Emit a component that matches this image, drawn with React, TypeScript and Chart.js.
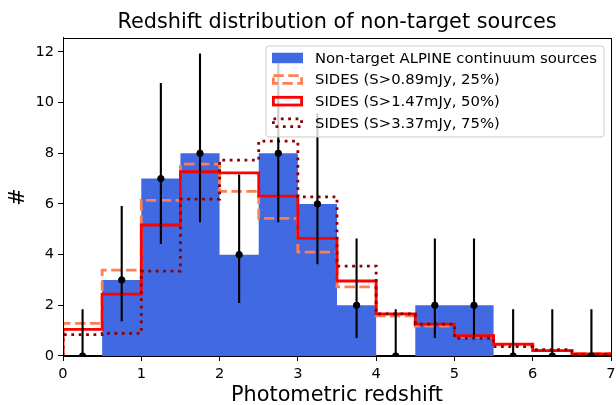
import React, { useEffect, useRef } from "react";
import { Chart, registerables } from "chart.js";

Chart.register(...registerables);

// Bin edges of the histograms (photometric redshift)
const binEdges = [0, 0.5, 1, 1.5, 2, 2.5, 3, 3.5, 4, 4.5, 5, 5.5, 6, 6.5, 7];
const binCenters = [0.25, 0.75, 1.25, 1.75, 2.25, 2.75, 3.25, 3.75, 4.25, 4.75, 5.25, 5.75, 6.25, 6.75];

// Non-target ALPINE continuum sources (counts per bin)
const alpineCounts = [0, 3, 7, 8, 4, 8, 6, 2, 0, 2, 2, 0, 0, 0];
const alpineErrLow = [0, 1.37, 4.42, 5.28, 2.09, 5.28, 3.62, 0.71, 0, 0.71, 0.71, 0, 0, 0];
const alpineErrHigh = [1.84, 5.92, 10.77, 11.94, 7.16, 11.94, 9.58, 4.64, 1.84, 4.64, 4.64, 1.84, 1.84, 1.84];

// SIDES expectations
const sides25 = [1.29, 3.39, 6.14, 7.57, 6.5, 5.43, 4.1, 2.73, 1.58, 1.18, 0.76, 0.44, 0.22, 0.09];
const sides50 = [1.05, 2.44, 5.17, 7.27, 7.23, 6.31, 4.64, 2.96, 1.66, 1.26, 0.8, 0.47, 0.21, 0.08];
const sides75 = [0.84, 0.89, 3.35, 6.19, 7.73, 8.48, 6.28, 3.55, 1.66, 1.26, 0.7, 0.37, 0.25, 0.05];

const xTicks = [0, 1, 2, 3, 4, 5, 6, 7];
const yTicks = [0, 2, 4, 6, 8, 10, 12];

const legendLabels = [
  "Non-target ALPINE continuum sources",
  "SIDES (S>0.89mJy, 25%)",
  "SIDES (S>1.47mJy, 50%)",
  "SIDES (S>3.37mJy, 75%)",
];

const FONT = "'DejaVu Sans', sans-serif";

function stepPoints(values: number[]) {
  const pts: { x: number; y: number }[] = [{ x: binEdges[0], y: 0 }];
  values.forEach((v, i) => pts.push({ x: binEdges[i], y: v }));
  const last = values[values.length - 1];
  pts.push({ x: binEdges[binEdges.length - 1], y: last });
  pts.push({ x: binEdges[binEdges.length - 1], y: 0 });
  return pts;
}

function errorSegments() {
  const pts: ({ x: number; y: number | null })[] = [];
  binCenters.forEach((c, i) => {
    pts.push({ x: c, y: alpineErrLow[i] });
    pts.push({ x: c, y: alpineErrHigh[i] });
    pts.push({ x: c, y: null });
  });
  return pts;
}

const framePlugin = {
  id: "frame",
  afterDraw(chart: any) {
    const { ctx, chartArea } = chart;
    ctx.save();
    ctx.strokeStyle = "#000";
    ctx.lineWidth = 1;
    ctx.strokeRect(
      Math.round(chartArea.left) + 0.5,
      Math.round(chartArea.top) + 0.5,
      Math.round(chartArea.right - chartArea.left),
      Math.round(chartArea.bottom - chartArea.top)
    );
    ctx.restore();
  },
};

const legendPlugin = {
  id: "mplLegend",
  afterDraw(chart: any) {
    const { ctx, chartArea } = chart;
    const boxRight = chartArea.right - 7;
    const boxLeft = boxRight - 338;
    const boxTop = chartArea.top + 8;
    const boxH = 91;
    ctx.save();
    ctx.beginPath();
    const r = 3;
    ctx.moveTo(boxLeft + r, boxTop);
    ctx.lineTo(boxRight - r, boxTop);
    ctx.quadraticCurveTo(boxRight, boxTop, boxRight, boxTop + r);
    ctx.lineTo(boxRight, boxTop + boxH - r);
    ctx.quadraticCurveTo(boxRight, boxTop + boxH, boxRight - r, boxTop + boxH);
    ctx.lineTo(boxLeft + r, boxTop + boxH);
    ctx.quadraticCurveTo(boxLeft, boxTop + boxH, boxLeft, boxTop + boxH - r);
    ctx.lineTo(boxLeft, boxTop + r);
    ctx.quadraticCurveTo(boxLeft, boxTop, boxLeft + r, boxTop);
    ctx.closePath();
    ctx.fillStyle = "rgba(255,255,255,0.8)";
    ctx.fill();
    ctx.strokeStyle = "#cccccc";
    ctx.lineWidth = 1;
    ctx.stroke();

    const patchX = boxLeft + 6;
    const patchW = 31;
    const patchH = 10.5;
    const rowH = 21.6;
    const firstRow = boxTop + 12;
    ctx.font = `14.8px ${FONT}`;
    ctx.textBaseline = "middle";
    ctx.textAlign = "left";
    legendLabels.forEach((label, i) => {
      const cy = firstRow + i * rowH;
      if (i === 0) {
        ctx.fillStyle = "#4169E1";
        ctx.fillRect(patchX, cy - patchH / 2, patchW, patchH);
      } else {
        ctx.lineWidth = 2.8;
        ctx.lineCap = "butt";
        if (i === 1) {
          ctx.strokeStyle = "#FF7F50";
          ctx.setLineDash([10.4, 4.5]);
        } else if (i === 2) {
          ctx.strokeStyle = "#FF0000";
          ctx.setLineDash([]);
        } else {
          ctx.strokeStyle = "#8B0000";
          ctx.setLineDash([2.8, 4.6]);
        }
        ctx.strokeRect(patchX + 1.4, cy - patchH / 2 + 1.4, patchW - 2.8, patchH - 2.8);
        ctx.setLineDash([]);
      }
      ctx.fillStyle = "#000";
      ctx.fillText(label, patchX + patchW + 12, cy + 1);
    });
    ctx.restore();
  },
};

export default function App() {
  const canvasRef = useRef<HTMLCanvasElement | null>(null);

  useEffect(() => {
    document.body.style.margin = "0";
    const canvas = canvasRef.current;
    if (!canvas) return;
    const chart = new Chart(canvas, {
      type: "line",
      data: {
        datasets: [
          {
            label: "points",
            type: "scatter",
            data: binCenters.map((c, i) => ({ x: c, y: alpineCounts[i] })),
            pointRadius: 3.2,
            pointBackgroundColor: "#000",
            pointBorderColor: "#000",
            showLine: false,
            clip: 0,
            order: 0,
          } as any,
          {
            label: "errors",
            data: errorSegments(),
            borderColor: "#000",
            borderWidth: 2.1,
            pointRadius: 0,
            spanGaps: false,
            fill: false,
            clip: 0,
            order: 1,
          },
          {
            label: legendLabels[3],
            data: stepPoints(sides75),
            stepped: "before",
            borderColor: "#8B0000",
            borderWidth: 2.8,
            borderDash: [2.8, 4.6],
            pointRadius: 0,
            fill: false,
            clip: 0,
            order: 2,
          },
          {
            label: legendLabels[2],
            data: stepPoints(sides50),
            stepped: "before",
            borderColor: "#FF0000",
            borderWidth: 2.8,
            pointRadius: 0,
            fill: false,
            clip: 0,
            order: 3,
          },
          {
            label: legendLabels[1],
            data: stepPoints(sides25),
            stepped: "before",
            borderColor: "#FF7F50",
            borderWidth: 2.8,
            borderDash: [10.4, 4.5],
            pointRadius: 0,
            fill: false,
            clip: 0,
            order: 4,
          },
          {
            label: legendLabels[0],
            data: stepPoints(alpineCounts),
            stepped: "before",
            borderColor: "rgba(0,0,0,0)",
            borderWidth: 0,
            backgroundColor: "#4169E1",
            pointRadius: 0,
            fill: "origin",
            clip: 0,
            order: 5,
          },
        ],
      },
      options: {
        animation: false,
        responsive: false,
        maintainAspectRatio: false,
        layout: { padding: { left: 0, right: 4, top: 0, bottom: 0 } },
        plugins: {
          legend: { display: false },
          tooltip: { enabled: false },
          title: {
            display: true,
            fullSize: false,
            text: "Redshift distribution of non-target sources",
            color: "#000",
            font: { family: FONT, size: 20.8, weight: "normal" },
            padding: { top: 10, bottom: 3 },
          },
        },
        scales: {
          x: {
            type: "linear",
            min: 0,
            max: 7,
            afterFit: (s: any) => {
              s.height = 49;
              s.paddingLeft = 0;
              s.paddingRight = 0;
            },
            afterBuildTicks: (s: any) => {
              s.ticks = xTicks.map((v) => ({ value: v }));
            },
            ticks: {
              color: "#000",
              font: { family: FONT, size: 14.6 },
              padding: 4,
              maxRotation: 0,
              autoSkip: false,
            },
            grid: {
              display: true,
              drawOnChartArea: false,
              drawTicks: true,
              tickLength: 5,
              color: "#000",
            },
            border: { display: true, color: "#000", width: 1 },
            title: {
              display: true,
              text: "Photometric redshift",
              color: "#000",
              font: { family: FONT, size: 20.8 },
              padding: { top: 0, bottom: -3 },
            },
          },
          y: {
            type: "linear",
            min: 0,
            max: 12.55,
            afterFit: (s: any) => {
              s.width = 63;
            },
            afterBuildTicks: (s: any) => {
              s.ticks = yTicks.map((v) => ({ value: v }));
            },
            ticks: {
              color: "#000",
              font: { family: FONT, size: 14.6 },
              padding: 4,
              autoSkip: false,
            },
            grid: {
              display: true,
              drawOnChartArea: false,
              drawTicks: true,
              tickLength: 5,
              color: "#000",
            },
            border: { display: true, color: "#000", width: 1 },
            title: {
              display: true,
              text: "#",
              color: "#000",
              font: { family: FONT, size: 20.8 },
              padding: { top: 6, bottom: 0 },
            },
          },
        },
      },
      plugins: [framePlugin, legendPlugin],
    } as any);
    return () => chart.destroy();
  }, []);

  return (
    <div style={{ position: "absolute", left: 0, top: 0, width: 616, height: 405 }}>
      <canvas ref={canvasRef} width={616} height={405} style={{ width: 616, height: 405 }} />
    </div>
  );
}
